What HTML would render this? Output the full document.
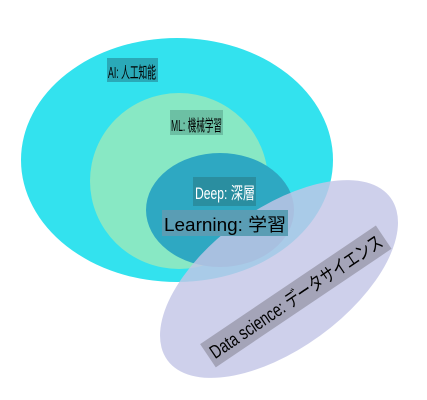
<!DOCTYPE html>
<html><head><meta charset="utf-8"><style>
body{margin:0;width:427px;height:400px;background:#fff;overflow:hidden}
svg{display:block}
text{font-family:"Liberation Sans","Noto Sans CJK JP",sans-serif}
</style></head><body>
<svg width="427" height="400" viewBox="0 0 427 400">
<ellipse cx="177" cy="160" rx="156" ry="122" fill="#33e2ee"/>
<ellipse cx="179" cy="181" rx="89" ry="88" fill="#88e8c4"/>
<ellipse cx="220" cy="210" rx="74" ry="57" fill="#2ea8c2"/>
<rect x="107" y="58" width="51" height="24" fill="#2aa9b8"/>
<text x="108" y="78" font-size="16" fill="#000" textLength="48" lengthAdjust="spacingAndGlyphs">AI: 人工知能</text>
<rect x="170" y="110" width="53" height="25" fill="#6cc0a4"/>
<text x="171" y="131" font-size="16" fill="#000" textLength="51" lengthAdjust="spacingAndGlyphs">ML: 機械学習</text>
<ellipse cx="279" cy="279" rx="138" ry="70" transform="rotate(-36 279 279)" fill="#c3c6e6" fill-opacity="0.82"/>
<rect x="193" y="177" width="63" height="29" fill="#2a8ea0"/>
<text x="195" y="199" font-size="17" fill="#fff" textLength="60" lengthAdjust="spacingAndGlyphs">Deep: 深層</text>
<rect x="162" y="210" width="126" height="26" fill="#5a9db4"/>
<text x="164" y="231" font-size="18" fill="#000" textLength="122" lengthAdjust="spacingAndGlyphs">Learning: 学習</text>
<g transform="rotate(-34 295 297)">
<rect x="190" y="283" width="212" height="28" fill="#a4a4b8"/>
<text x="194" y="304" font-size="19" fill="#000" textLength="204" lengthAdjust="spacingAndGlyphs">Data science: データサイエンス</text>
</g>
</svg>
</body></html>
